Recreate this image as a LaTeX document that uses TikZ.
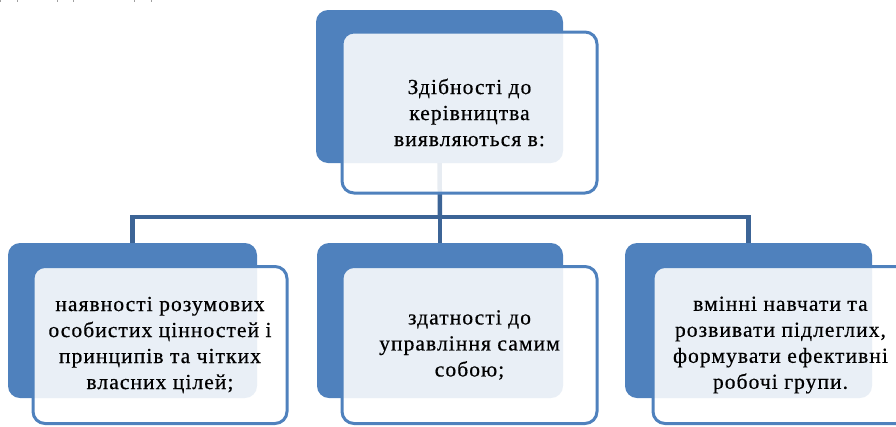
\documentclass[tikz,border=0pt]{standalone}
\usepackage{fontspec}
\setmainfont{Liberation Serif}
\newfontfamily\boxfont{Liberation Serif}[LetterSpace=5, FakeBold=0.5]
\definecolor{boxblue}{HTML}{4F81BD}
\definecolor{linkblue}{HTML}{3C6496}
\definecolor{tickgray}{HTML}{A0A0A0}
\tikzset{
  backbox/.style={rectangle, rounded corners=12pt, fill=boxblue, draw=none, inner sep=0pt},
  frontbox/.style={rectangle, rounded corners=12pt, draw=boxblue, line width=3pt, fill=white, fill opacity=0.88, text opacity=1, inner sep=0pt, minimum width=255pt, minimum height=157pt},
  boxtext/.style={font=\boxfont\fontsize{21.5}{26}\selectfont, align=center, text=black},
  link/.style={draw=linkblue, line width=4.5pt},
  tick/.style={draw=tickgray, line width=0.8pt}
}
\begin{document}
\begin{tikzpicture}[x=1pt, y=-1pt]
\useasboundingbox (0,0) rectangle (896,426);
\clip (0,0) rectangle (896,426);
% tiny marks at the top edge
\draw[tick] (0.5,0) -- (0.5,2);
\draw[tick] (17,0) -- (17,2);
\draw[tick] (57,0) -- (57,2);
\draw[tick] (73,0) -- (73,2);
\draw[tick] (134,0) -- (134,2);
\draw[tick] (151,0) -- (151,2);
% back boxes
\node[backbox, minimum width=247pt, minimum height=153pt] (topback) at (439.5,86.5) {};
\node[backbox, minimum width=249pt, minimum height=155pt] (leftback) at (132.5,320.5) {};
\node[backbox, minimum width=246pt, minimum height=155pt] (midback) at (440,320.5) {};
\node[backbox, minimum width=247pt, minimum height=155pt] (rightback) at (748.5,320.5) {};
% connectors
\coordinate (bus) at (440,217);
\draw[link] (topback.south) -- (bus);
\draw[link] (bus) -| (leftback.north);
\draw[link] (bus) -- (midback.north);
\draw[link] (bus) -| (rightback.north);
% front boxes
\node[frontbox, minimum height=161pt] (topfront) at (469.5,112.5) {};
\node[frontbox, minimum width=254pt] (leftfront) at (160,345) {};
\node[frontbox] (midfront) at (469.5,345) {};
\node[frontbox] (rightfront) at (780.5,345) {};
% texts
\node[boxtext] (toptext) at (topfront.center) {Здібності до\\керівництва\\виявляються в:};
\node[boxtext] (lefttext) at (leftfront.center) {наявності розумових\\особистих цінностей і\\принципів та чітких\\власних цілей;};
\node[boxtext] (midtext) at (midfront.center) {здатності до\\управління самим\\собою;};
\node[boxtext] (righttext) at (rightfront.center) {вмінні навчати та\\розвивати підлеглих,\\формувати ефективні\\робочі групи.};
\end{tikzpicture}
\end{document}
